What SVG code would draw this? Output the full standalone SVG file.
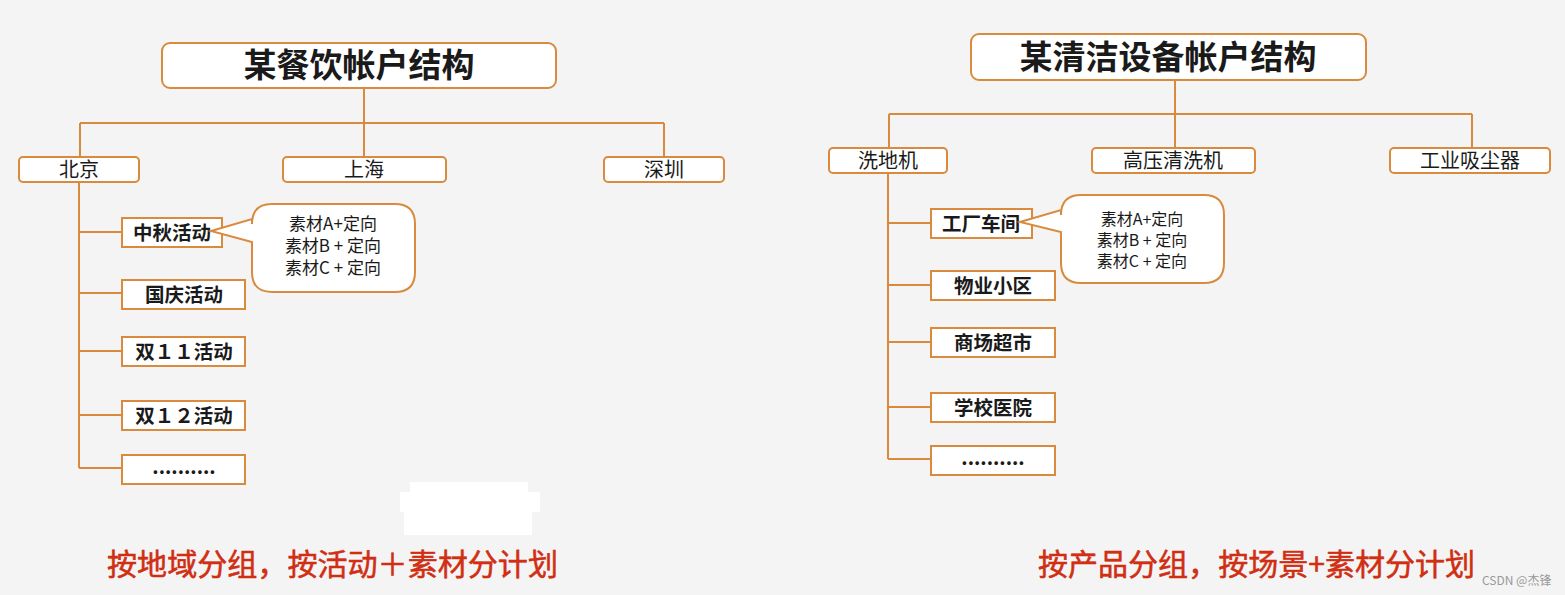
<svg xmlns="http://www.w3.org/2000/svg" width="1565" height="595" viewBox="0 0 1565 595">
<style>
.bx{fill:#fff;stroke:#d98a3c;stroke-width:2}
.ln{fill:none;stroke:#d98a3c;stroke-width:2}
.t{font-family:"Noto Sans CJK SC","Noto Sans",sans-serif;fill:#1a1a1a;text-anchor:middle}
.title{font-size:33px;font-weight:bold}
.top{font-size:20px}
.sub{font-size:19.5px;font-weight:bold}
.note{font-size:17px}
.note2{font-size:16px}
.cap{font-family:"Noto Sans CJK SC","Noto Sans",sans-serif;fill:#d42f12;stroke:#c8280e;stroke-width:0.5;font-size:30px}
</style>
<rect width="1565" height="595" fill="#f4f4f4"/>
<path d="M410,482 H528 V492 H540 V512 H532 V535 H404 V512 H400 V492 H410 Z" fill="#ffffff"/>
<g id="connectors">
<path class="ln" d="M364,88 V123 M80,123 H664 M80,123 V157 M364,123 V157 M664,123 V157"/>
<path class="ln" d="M79,182 V468 M79,232 H122 M79,293 H122 M79,351 H122 M79,415 H122 M79,468 H122"/>
<path class="ln" d="M1175,80 V114 M889,114 H1472 M889,114 V148 M1175,114 V148 M1472,114 V148"/>
<path class="ln" d="M888,173 V459 M888,223 H931 M888,285 H931 M888,342 H931 M888,407 H931 M888,459 H931"/>
</g>
<g id="left-title"><rect class="bx" x="162" y="43" width="394" height="45" rx="8"/><text class="t title" x="359" y="77">某餐饮帐户结构</text></g>
<g id="beijing"><rect class="bx" x="19" y="157" width="120" height="25" rx="4"/><text class="t top" x="79" y="177">北京</text></g>
<g id="shanghai"><rect class="bx" x="283" y="157" width="163" height="25" rx="4"/><text class="t top" x="364" y="177">上海</text></g>
<g id="shenzhen"><rect class="bx" x="604" y="157" width="120" height="25" rx="4"/><text class="t top" x="664" y="177">深圳</text></g>
<g id="zhongqiu"><rect class="bx" x="122" y="218" width="100" height="29"/><text class="t sub" x="172" y="239.5">中秋活动</text></g>
<g id="guoqing"><rect class="bx" x="122" y="280" width="123" height="29"/><text class="t sub" x="184" y="301.5">国庆活动</text></g>
<g id="s11"><rect class="bx" x="122" y="337" width="123" height="29"/><text class="t sub" x="184" y="358.5">双１１活动</text></g>
<g id="s12"><rect class="bx" x="122" y="401" width="123" height="29"/><text class="t sub" x="184" y="422.5">双１２活动</text></g>
<g id="more-left"><rect class="bx" x="122" y="455" width="123" height="29"/><text class="t sub" x="184" y="474">..........</text></g>
<g id="callout-left">
<path class="bx" d="M272,204 H395 Q415,204 415,224 V272 Q415,292 395,292 H272 Q252,292 252,272 V242 L211,231 L252,219 V224 Q252,204 272,204 Z"/>
<text class="t note" x="333" y="230">素材A+定向</text>
<text class="t note" x="333" y="252">素材B + 定向</text>
<text class="t note" x="333" y="274">素材C + 定向</text>
</g>
<g id="right-title"><rect class="bx" x="971" y="34" width="395" height="46" rx="8"/><text class="t title" x="1168" y="69">某清洁设备帐户结构</text></g>
<g id="xidiji"><rect class="bx" x="829" y="148" width="118" height="25" rx="4"/><text class="t top" x="888" y="168">洗地机</text></g>
<g id="gaoya"><rect class="bx" x="1092" y="148" width="163" height="25" rx="4"/><text class="t top" x="1173" y="168">高压清洗机</text></g>
<g id="xichen"><rect class="bx" x="1390" y="148" width="160" height="25" rx="4"/><text class="t top" x="1470" y="168">工业吸尘器</text></g>
<g id="gongchang"><rect class="bx" x="931" y="209" width="101" height="29"/><text class="t sub" x="981" y="230.5">工厂车间</text></g>
<g id="wuye"><rect class="bx" x="931" y="271" width="124" height="29"/><text class="t sub" x="993" y="292.5">物业小区</text></g>
<g id="shangchang"><rect class="bx" x="931" y="328" width="124" height="29"/><text class="t sub" x="993" y="349.5">商场超市</text></g>
<g id="xuexiao"><rect class="bx" x="931" y="393" width="124" height="29"/><text class="t sub" x="993" y="414.5">学校医院</text></g>
<g id="more-right"><rect class="bx" x="931" y="446" width="124" height="29"/><text class="t sub" x="993" y="465">..........</text></g>
<g id="callout-right">
<path class="bx" d="M1081,195 H1204 Q1224,195 1224,215 V263 Q1224,283 1204,283 H1081 Q1061,283 1061,263 V232 L1020,222 L1061,210 V215 Q1061,195 1081,195 Z"/>
<text class="t note2" x="1142" y="225">素材A+定向</text>
<text class="t note2" x="1142" y="246">素材B + 定向</text>
<text class="t note2" x="1142" y="267">素材C + 定向</text>
</g>
<text class="cap" x="107" y="575" textLength="451" lengthAdjust="spacingAndGlyphs">按地域分组，按活动＋素材分计划</text>
<text class="cap" x="1038" y="575" textLength="437" lengthAdjust="spacingAndGlyphs">按产品分组，按场景+素材分计划</text>
<text x="1482" y="585" font-family="'Noto Sans CJK SC','Noto Sans',sans-serif" font-size="12" fill="#999">CSDN @杰锋</text>
</svg>
